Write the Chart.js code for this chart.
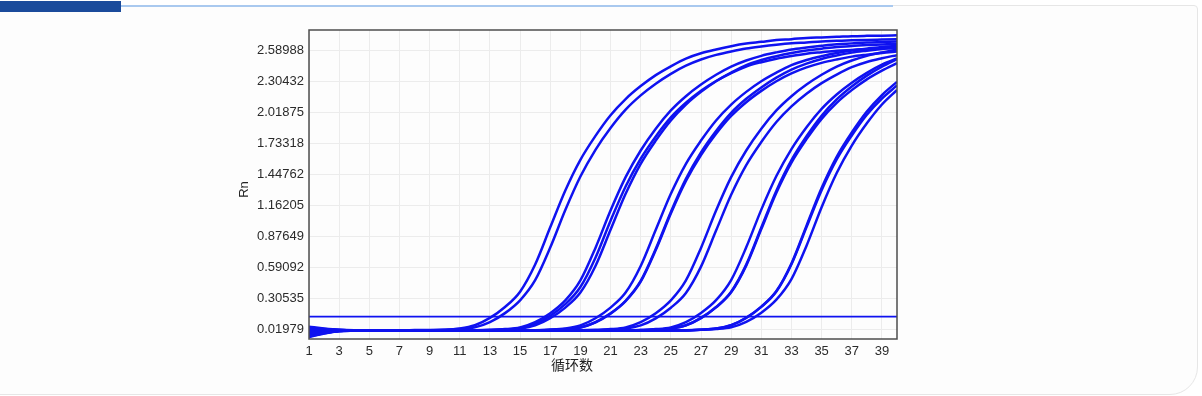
<!DOCTYPE html>
<html>
<head>
<meta charset="utf-8">
<title>Rn 扩增曲线</title>
<script src="https://cdn.jsdelivr.net/npm/chart.js@4.4.1/dist/chart.umd.min.js"></script>
<style>
  html, body { margin: 0; padding: 0; background: #fff; }
  body { width: 1202px; height: 396px; position: relative; overflow: hidden; }
  .card { position: absolute; left: -1px; top: 5px; width: 1197px; height: 388px;
          border: 1px solid #e6e6e6; border-radius: 0 4px 28px 0; background: #fdfdfd; }
  .tab  { position: absolute; left: 0; top: 1px; width: 121px; height: 11px; background: #1b4b9b; }
  .rule { position: absolute; left: 121px; top: 5px; width: 772px; height: 2px; background: #a9c9ef; }
  #wrap { position: absolute; left: 220px; top: 0; width: 680px; height: 396px; }
</style>
</head>
<body>
<div class="card"></div>
<div class="tab"></div>
<div class="rule"></div>
<div id="wrap"><canvas id="rnChart" width="680" height="396"></canvas></div>

<script>
/* =========================================================
   DATA
========================================================= */
const cycles = [1, 2, 3, 4, 5, 6, 7, 8, 9, 10, 11, 12, 13, 14, 15, 16, 17, 18, 19, 20,
                21, 22, 23, 24, 25, 26, 27, 28, 29, 30, 31, 32, 33, 34, 35, 36, 37, 38, 39, 40];
const xTicks = [1, 3, 5, 7, 9, 11, 13, 15, 17, 19, 21, 23, 25, 27, 29, 31, 33, 35, 37, 39];
const yTicks = [0.01979, 0.30535, 0.59092, 0.87649, 1.16205, 1.44762, 1.73318, 2.01875, 2.30432, 2.58988];
const threshold = [0.137];
const xTitle = "循环数";
const yTitle = "Rn";

// group 1
const s1a = [0.045, 0.028, 0.016, 0.013, 0.013, 0.013, 0.013, 0.014, 0.015, 0.017,
             0.028, 0.058, 0.126, 0.226, 0.367, 0.617, 0.959, 1.298, 1.580, 1.800,
             1.990, 2.139, 2.258, 2.359, 2.440, 2.511, 2.560, 2.595, 2.625, 2.649,
             2.665, 2.682, 2.690, 2.701, 2.706, 2.711, 2.717, 2.720, 2.722, 2.725];
const s1b = [-0.045, -0.015, 0.006, 0.010, 0.011, 0.011, 0.012, 0.012, 0.013, 0.016,
             0.023, 0.039, 0.087, 0.170, 0.288, 0.473, 0.773, 1.118, 1.426, 1.672,
             1.873, 2.042, 2.173, 2.280, 2.371, 2.446, 2.503, 2.545, 2.577, 2.604,
             2.623, 2.639, 2.652, 2.660, 2.669, 2.674, 2.679, 2.683, 2.686, 2.689];
// group 2
const s2a = [0.030, 0.020, 0.014, 0.012, 0.012, 0.012, 0.012, 0.012, 0.012, 0.012,
             0.012, 0.013, 0.016, 0.023, 0.039, 0.087, 0.169, 0.287, 0.471, 0.770,
             1.114, 1.421, 1.666, 1.866, 2.034, 2.165, 2.272, 2.362, 2.437, 2.493,
             2.536, 2.568, 2.595, 2.613, 2.629, 2.643, 2.651, 2.659, 2.664, 2.669];
const s2b = [-0.030, -0.008, 0.008, 0.011, 0.011, 0.012, 0.012, 0.012, 0.012, 0.012,
             0.012, 0.012, 0.013, 0.017, 0.028, 0.057, 0.123, 0.221, 0.359, 0.603,
             0.936, 1.267, 1.543, 1.757, 1.942, 2.088, 2.205, 2.303, 2.382, 2.451,
             2.498, 2.533, 2.562, 2.586, 2.602, 2.618, 2.626, 2.636, 2.641, 2.647];
const s2c = [0.020, 0.016, 0.013, 0.012, 0.012, 0.012, 0.012, 0.012, 0.012, 0.012,
             0.012, 0.012, 0.014, 0.020, 0.033, 0.070, 0.145, 0.252, 0.410, 0.680,
             1.020, 1.335, 1.590, 1.795, 1.970, 2.105, 2.215, 2.305, 2.378, 2.438,
             2.478, 2.510, 2.535, 2.556, 2.570, 2.583, 2.591, 2.599, 2.604, 2.609];
// group 3
const s3a = [-0.020, -0.004, 0.009, 0.011, 0.011, 0.011, 0.011, 0.011, 0.011, 0.011,
             0.011, 0.011, 0.011, 0.011, 0.011, 0.012, 0.017, 0.028, 0.057, 0.123,
             0.221, 0.359, 0.603, 0.936, 1.267, 1.543, 1.757, 1.942, 2.088, 2.205,
             2.303, 2.382, 2.451, 2.498, 2.533, 2.562, 2.586, 2.602, 2.618, 2.626];
const s3b = [0.035, 0.022, 0.015, 0.013, 0.012, 0.012, 0.012, 0.012, 0.012, 0.012,
             0.012, 0.012, 0.012, 0.012, 0.012, 0.012, 0.016, 0.023, 0.038, 0.086,
             0.168, 0.284, 0.466, 0.761, 1.101, 1.405, 1.648, 1.845, 2.012, 2.141,
             2.246, 2.336, 2.410, 2.465, 2.508, 2.539, 2.566, 2.584, 2.600, 2.613];
const s3c = [-0.040, -0.012, 0.006, 0.010, 0.011, 0.011, 0.011, 0.011, 0.011, 0.011,
             0.011, 0.011, 0.011, 0.011, 0.011, 0.011, 0.016, 0.022, 0.038, 0.085,
             0.165, 0.280, 0.459, 0.750, 1.086, 1.385, 1.624, 1.819, 1.983, 2.110,
             2.214, 2.303, 2.375, 2.430, 2.472, 2.503, 2.529, 2.547, 2.563, 2.576];
// group 4
const s4a = [0.010, 0.011, 0.011, 0.011, 0.011, 0.011, 0.011, 0.011, 0.011, 0.011,
             0.011, 0.011, 0.011, 0.011, 0.011, 0.011, 0.011, 0.011, 0.012, 0.016,
             0.023, 0.039, 0.087, 0.169, 0.287, 0.471, 0.770, 1.114, 1.421, 1.666,
             1.866, 2.034, 2.165, 2.272, 2.362, 2.437, 2.493, 2.536, 2.568, 2.595];
const s4b = [-0.010, 0.002, 0.009, 0.010, 0.010, 0.010, 0.010, 0.010, 0.010, 0.010,
             0.010, 0.010, 0.010, 0.010, 0.010, 0.010, 0.010, 0.011, 0.011, 0.011,
             0.017, 0.028, 0.057, 0.122, 0.220, 0.356, 0.598, 0.929, 1.258, 1.531,
             1.744, 1.928, 2.072, 2.188, 2.285, 2.364, 2.432, 2.480, 2.514, 2.543];
// group 5
const s5a = [0.040, 0.024, 0.015, 0.012, 0.012, 0.012, 0.012, 0.012, 0.012, 0.012,
             0.012, 0.012, 0.012, 0.012, 0.012, 0.012, 0.012, 0.012, 0.012, 0.012,
             0.012, 0.012, 0.016, 0.023, 0.039, 0.087, 0.171, 0.289, 0.474, 0.775,
             1.122, 1.431, 1.679, 1.880, 2.049, 2.181, 2.289, 2.380, 2.455, 2.512];
const s5b = [-0.050, -0.018, 0.004, 0.009, 0.010, 0.010, 0.010, 0.010, 0.010, 0.010,
             0.010, 0.010, 0.010, 0.010, 0.010, 0.010, 0.010, 0.010, 0.010, 0.010,
             0.010, 0.010, 0.011, 0.017, 0.028, 0.058, 0.126, 0.226, 0.367, 0.616,
             0.957, 1.296, 1.577, 1.797, 1.986, 2.135, 2.254, 2.354, 2.436, 2.506];
const s5c = [0.025, 0.018, 0.013, 0.012, 0.012, 0.012, 0.012, 0.012, 0.012, 0.012,
             0.012, 0.012, 0.012, 0.012, 0.012, 0.012, 0.012, 0.012, 0.012, 0.012,
             0.012, 0.012, 0.012, 0.017, 0.028, 0.057, 0.124, 0.223, 0.362, 0.607,
             0.943, 1.277, 1.554, 1.770, 1.957, 2.104, 2.221, 2.320, 2.400, 2.469];
// group 6
const s6a = [-0.035, -0.010, 0.006, 0.009, 0.010, 0.010, 0.010, 0.010, 0.010, 0.010,
             0.010, 0.010, 0.010, 0.010, 0.010, 0.010, 0.010, 0.010, 0.010, 0.010,
             0.010, 0.010, 0.010, 0.010, 0.010, 0.011, 0.018, 0.029, 0.059, 0.128,
             0.230, 0.374, 0.627, 0.975, 1.320, 1.607, 1.831, 2.024, 2.176, 2.297];
const s6b = [0.000, 0.007, 0.010, 0.011, 0.011, 0.011, 0.011, 0.011, 0.011, 0.011,
             0.011, 0.011, 0.011, 0.011, 0.011, 0.011, 0.011, 0.011, 0.011, 0.011,
             0.011, 0.011, 0.011, 0.011, 0.011, 0.011, 0.017, 0.028, 0.058, 0.126,
             0.227, 0.368, 0.619, 0.961, 1.301, 1.584, 1.804, 1.995, 2.144, 2.264];
const s6c = [-0.025, -0.005, 0.007, 0.010, 0.011, 0.011, 0.011, 0.011, 0.011, 0.011,
             0.011, 0.011, 0.011, 0.011, 0.011, 0.011, 0.011, 0.011, 0.011, 0.011,
             0.011, 0.011, 0.011, 0.011, 0.011, 0.012, 0.016, 0.023, 0.039, 0.089,
             0.174, 0.294, 0.483, 0.790, 1.144, 1.459, 1.711, 1.916, 2.089, 2.223];

const curves = [s1a, s1b, s2a, s2b, s2c, s3a, s3b, s3c, s4a, s4b, s5a, s5b, s5c, s6a, s6b, s6c];

/* =========================================================
   STYLE
========================================================= */
const BLUE = "#0f12f0";
const TICK_FONT = { family: "'Liberation Sans', Arial, sans-serif", size: 13 };

/* =========================================================
   PLUGINS: plot frame + axis titles
========================================================= */
const framePlugin = {
  id: "frame",
  afterDatasetsDraw(chart) {
    const { ctx, chartArea: a } = chart;
    ctx.save();
    ctx.strokeStyle = "#4d4d4d";
    ctx.lineWidth = 1.5;
    ctx.strokeRect(a.left, a.top, a.right - a.left, a.bottom - a.top);
    ctx.restore();
  }
};

const axisTitlePlugin = {
  id: "axisTitles",
  afterDraw(chart) {
    const { ctx, chartArea: a } = chart;
    ctx.save();
    ctx.fillStyle = "#222";
    ctx.textAlign = "center";
    ctx.textBaseline = "middle";
    ctx.font = "14px 'Noto Sans CJK SC', sans-serif";
    ctx.fillText(xTitle, (a.left + a.right) / 2 - 31, a.bottom + 26);

    ctx.font = "13px 'Liberation Sans', Arial, sans-serif";
    ctx.translate(a.left - 65, (a.top + a.bottom) / 2 + 5);
    ctx.rotate(-Math.PI / 2);
    ctx.fillText(yTitle, 0, 0);
    ctx.restore();
  }
};

/* =========================================================
   CHART
========================================================= */
const datasets = curves.map(vals => ({
  data: cycles.map((c, i) => ({ x: c, y: vals[i] })),
  borderColor: BLUE,
  borderWidth: 2.5,
  pointRadius: 0,
  fill: false,
  cubicInterpolationMode: "monotone"
}));

datasets.push({
  data: [
    { x: cycles[0], y: threshold[0] },
    { x: cycles[cycles.length - 1], y: threshold[0] }
  ],
  borderColor: BLUE,
  borderWidth: 1.8,
  pointRadius: 0,
  fill: false
});

new Chart(document.getElementById("rnChart"), {
  type: "line",
  data: { datasets },
  plugins: [framePlugin, axisTitlePlugin],
  options: {
    responsive: false,
    animation: false,
    devicePixelRatio: 1,
    layout: { padding: { top: 30, right: 3, bottom: 17, left: 0 } },
    plugins: { legend: { display: false }, tooltip: { enabled: false } },
    scales: {
      x: {
        type: "linear",
        min: 1,
        max: 40,
        afterBuildTicks: s => { s.ticks = xTicks.map(v => ({ value: v })); },
        afterFit: s => { s.height = 40; },
        grid: { color: "#ececec", drawTicks: false },
        border: { display: false },
        ticks: {
          padding: 5, color: "#2b2b2b", font: TICK_FONT,
          autoSkip: false, maxRotation: 0,
          callback: v => String(v)
        }
      },
      y: {
        min: -0.068,
        max: 2.774,
        afterBuildTicks: s => { s.ticks = yTicks.map(v => ({ value: v })); },
        afterFit: s => { s.width = 89; },
        grid: { color: "#ececec", drawTicks: false },
        border: { display: false },
        ticks: {
          padding: 5, color: "#2b2b2b", font: TICK_FONT,
          callback: v => v.toFixed(5)
        }
      }
    }
  }
});
</script>
</body>
</html>
